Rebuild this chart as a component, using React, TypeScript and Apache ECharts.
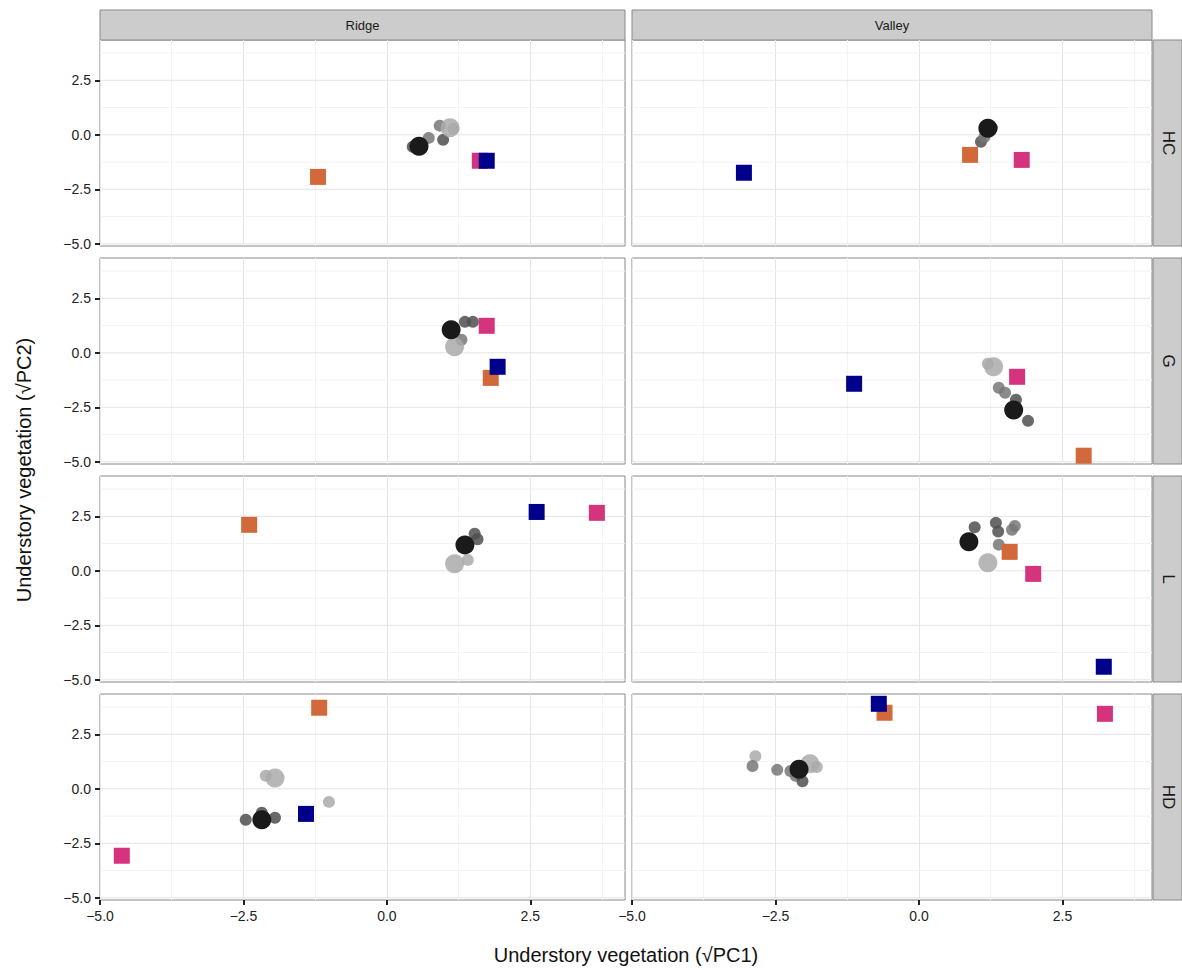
import React, { useEffect, useRef } from "react";
import * as echarts from "echarts";

// panel data: circles [x, y, group, big(1)/small(0)], squares [x, y, group]
const columns = ["Ridge", "Valley"];
const rows = ["HC", "G", "L", "HD"];
const xTicks = [-5, -2.5, 0, 2.5];
const yTicks = [-5, -2.5, 0, 2.5];
const yMinor = [-3.75, -1.25, 1.25, 3.75];

const ridgeHC_c = [[0.45,-0.55,"dark",0],[0.73,-0.14,"mid",0],[0.98,-0.23,"dark",0],[0.92,0.42,"mid",0],[1.16,0.28,"light",0],[1.1,0.32,"light",1],[0.56,-0.52,"black",1]];
const ridgeHC_s = [[-1.2,-1.93,"A"],[1.62,-1.19,"B"],[1.74,-1.19,"C"]];
const valleyHC_c = [[1.08,-0.32,"dark",0],[1.14,-0.1,"mid",0],[1.27,0.32,"dark",0],[1.2,0.3,"black",1]];
const valleyHC_s = [[0.89,-0.92,"A"],[1.79,-1.15,"B"],[-3.05,-1.74,"C"]];
const ridgeG_c = [[1.36,1.42,"dark",0],[1.5,1.42,"dark",0],[1.3,0.6,"mid",0],[1.18,0.28,"light",1],[1.12,1.06,"black",1]];
const ridgeG_s = [[1.81,-1.15,"A"],[1.74,1.24,"B"],[1.93,-0.64,"C"]];
const valleyG_c = [[1.2,-0.5,"light",0],[1.3,-0.64,"light",1],[1.39,-1.6,"mid",0],[1.5,-1.83,"mid",0],[1.69,-2.15,"dark",0],[1.9,-3.12,"dark",0],[1.65,-2.62,"black",1]];
const valleyG_s = [[2.87,-4.72,"A"],[1.71,-1.1,"B"],[-1.13,-1.42,"C"]];
const ridgeL_c = [[1.53,1.7,"dark",0],[1.58,1.45,"dark",0],[1.41,0.5,"light",0],[1.18,0.32,"light",1],[1.36,1.19,"black",1]];
const ridgeL_s = [[-2.4,2.11,"A"],[3.66,2.66,"B"],[2.61,2.7,"C"]];
const valleyL_c = [[0.97,2.0,"dark",0],[1.34,2.2,"dark",0],[1.38,1.8,"dark",0],[1.67,2.06,"mid",0],[1.62,1.88,"mid",0],[1.39,1.2,"mid",0],[1.2,0.37,"light",1],[0.87,1.33,"black",1]];
const valleyL_s = [[1.58,0.87,"A"],[1.99,-0.14,"B"],[3.22,-4.4,"C"]];
const ridgeHD_c = [[-2.46,-1.42,"dark",0],[-1.95,-1.33,"dark",0],[-2.18,-1.1,"dark",0],[-2.11,0.6,"light",0],[-1.95,0.5,"light",1],[-1.01,-0.6,"light",0],[-2.18,-1.42,"black",1]];
const ridgeHD_s = [[-1.18,3.72,"A"],[-4.62,-3.07,"B"],[-1.41,-1.15,"C"]];
const valleyHD_c = [[-2.85,1.5,"light",0],[-2.9,1.05,"mid",0],[-2.47,0.87,"mid",0],[-2.24,0.82,"mid",0],[-2.15,0.6,"mid",0],[-2.03,0.35,"dark",0],[-1.9,1.15,"light",1],[-1.78,1.0,"light",0],[-2.09,0.9,"black",1]];
const valleyHD_s = [[-0.6,3.49,"A"],[3.24,3.44,"B"],[-0.7,3.9,"C"]];

const panels = [
  [ridgeHC_c, ridgeHC_s, valleyHC_c, valleyHC_s],
  [ridgeG_c, ridgeG_s, valleyG_c, valleyG_s],
  [ridgeL_c, ridgeL_s, valleyL_c, valleyL_s],
  [ridgeHD_c, ridgeHD_s, valleyHD_c, valleyHD_s],
];

const circleColors: Record<string, string> = { black: "#1a1a1a", dark: "#4f4f4f", mid: "#777777", light: "#aaaaaa" };
const squareColors: Record<string, string> = { A: "#d2693a", B: "#d6337f", C: "#00008b" };

export default function App() {
  const ref = useRef<HTMLDivElement>(null);
  useEffect(() => {
    const chart = echarts.init(ref.current!, null, { renderer: "svg" });
    const colLeft = [100, 632];
    const colW = [525, 520];
    const colMax = [4.15, 4.06];
    const rowTop = [40, 258, 476, 694];
    const rowH = 206;
    const grids: any[] = [], xAxes: any[] = [], yAxes: any[] = [], series: any[] = [];
    const graphic: any[] = [];
    let gi = 0;
    const font = "Liberation Sans, Arial";
    rows.forEach((rname, r) => {
      columns.forEach((cname, c) => {
        grids.push({ left: colLeft[c], top: rowTop[r], width: colW[c], height: rowH, show: true, backgroundColor: "#fff", borderColor: "#888", borderWidth: 1 });
        const tick = { show: true, length: 5, inside: false, lineStyle: { color: "#222", width: 2 } };
        const label = { color: "#222", fontSize: 14, fontFamily: font, formatter: (v: number) => v.toFixed(1).replace("-", "\u2212") };
        xAxes.push({
          gridIndex: gi, type: "value", interval: 2.5, min: -5, max: colMax[c],
          axisLine: { show: false, onZero: false },
          axisTick: { ...tick, show: r === 3, customValues: xTicks },
          axisLabel: { ...label, show: r === 3, margin: 9, customValues: xTicks },
          splitLine: { show: true, lineStyle: { color: "#e4e4e4", width: 1 } },
          minorTick: { show: false, splitNumber: 2 },
          minorSplitLine: { show: true, lineStyle: { color: "#f3f3f3", width: 1 } },
        });
        yAxes.push({
          gridIndex: gi, type: "value", min: -5.1, max: 4.35,
          axisLine: { show: false, onZero: false },
          axisTick: { ...tick, show: c === 0, customValues: yTicks },
          axisLabel: { ...label, show: c === 0, margin: 9, customValues: yTicks },
          splitLine: { show: false },
        });
        const gl = yMinor.map((v) => ({ v, col: "#f3f3f3" })).concat(yTicks.map((v) => ({ v, col: "#e4e4e4" })));
        gl.forEach((g) => {
          series.push({ type: "line", xAxisIndex: gi, yAxisIndex: gi, silent: true, symbol: "none", z: 1,
            data: [[-5, g.v], [colMax[c], g.v]], lineStyle: { color: g.col, width: 1 } });
        });
        const [circ, sq] = [panels[r][c * 2], panels[r][c * 2 + 1]];
        series.push({
          type: "scatter", xAxisIndex: gi, yAxisIndex: gi, z: 3,
          data: (circ as any[]).map((p) => ({ value: [p[0], p[1]], symbolSize: p[3] ? 19 : 12, itemStyle: { color: circleColors[p[2]], opacity: p[2] === "black" ? 1 : 0.85 } })),
        });
        series.push({
          type: "scatter", xAxisIndex: gi, yAxisIndex: gi, symbol: "rect", symbolSize: 16, z: 4,
          data: (sq as any[]).map((p) => ({ value: [p[0], p[1]], itemStyle: { color: squareColors[p[2]], opacity: 1 } })),
        });
        gi++;
      });
      graphic.push({ type: "rect", shape: { x: 1153, y: rowTop[r], width: 29, height: rowH }, style: { fill: "#cccccc", stroke: "#888", lineWidth: 1 } });
      graphic.push({ type: "text", x: 1168, y: rowTop[r] + rowH / 2, rotation: -Math.PI / 2, style: { text: rname, fill: "#1a1a1a", fontSize: 17, fontFamily: font, align: "center", verticalAlign: "middle" } });
    });
    columns.forEach((cname, c) => {
      graphic.push({ type: "rect", shape: { x: colLeft[c], y: 10, width: colW[c], height: 30 }, style: { fill: "#cccccc", stroke: "#888", lineWidth: 1 } });
      graphic.push({ type: "text", x: colLeft[c] + colW[c] / 2, y: 25, style: { text: cname, fill: "#1a1a1a", fontSize: 13, fontFamily: font, align: "center", verticalAlign: "middle" } });
    });
    graphic.push({ type: "text", x: 626, y: 955, style: { text: "Understory vegetation (\u221APC1)", fill: "#111", fontSize: 20, fontFamily: font, align: "center", verticalAlign: "middle" } });
    graphic.push({ type: "text", x: 24, y: 470, rotation: Math.PI / 2, style: { text: "Understory vegetation (\u221APC2)", fill: "#111", fontSize: 20, fontFamily: font, align: "center", verticalAlign: "middle" } });
    chart.setOption({ animation: false, grid: grids, xAxis: xAxes, yAxis: yAxes, series, graphic });
    return () => chart.dispose();
  }, []);
  return <div ref={ref} style={{ position: "absolute", left: 0, top: 0, width: 1182, height: 970, background: "#fff" }} />;
}
